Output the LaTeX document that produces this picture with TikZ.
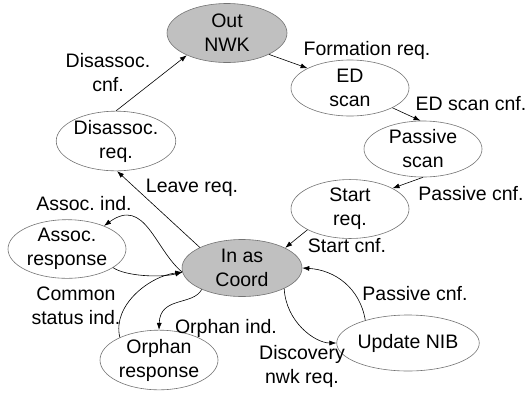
\documentclass[tikz,border=0pt]{standalone}
\usepackage{fontspec}
\setmainfont{Liberation Sans}
\usetikzlibrary{shapes.geometric,arrows.meta}
\definecolor{coordgray}{RGB}{192,192,192}
\frenchspacing

\begin{document}
\begin{tikzpicture}[
    x=1pt, y=-1pt,
    font=\fontsize{19.5}{24}\selectfont,
    state/.style={ellipse, draw=black!55, line width=0.6pt,
      minimum width=118pt, minimum height=56pt, inner sep=0pt, align=center},
    mainstate/.style={state, fill=coordgray},
    edge/.style={-{Latex[length=7pt,width=5pt]}, line width=0.6pt},
    lbl/.style={align=center, inner sep=0pt},
  ]
  \useasboundingbox (0,0) rectangle (528,392);
  \node[mainstate, minimum width=120pt, minimum height=59pt] (out) at (227,33) {Out\\NWK};
  \node[state] (ed) at (350,88) {ED\\scan};
  \node[state] (pscan) at (423,149) {Passive\\scan};
  \node[state] (start) at (350,209) {Start\\req.};
  \node[mainstate, minimum width=120pt, minimum height=57pt] (inas) at (242,268) {In as\\Coord};
  \node[state] (upd) at (408,343) {Update NIB};
  \node[state] (orph) at (159,360) {Orphan\\response};
  \node[state, minimum height=58pt] (assoc) at (67,249) {Assoc.\\response};
  \node[state] (disreq) at (116,141) {Disassoc.\\req.};

  \draw[edge] (disreq.north) -- (out.209);
  \draw[edge] (out.-27) -- (ed.155);
  \draw[edge] (ed.-25) -- (pscan.95);
  \draw[edge] (pscan.south) -- (start.26);
  \draw[edge] (start.206) -- (inas.25);
  \draw[edge] (inas.154) -- (disreq.-88);
  \draw[edge] (inas.184) .. controls (155,250) and (145,196) .. (assoc.32);
  \draw[edge] (assoc.-22) .. controls (125,276) and (160,278) .. (inas.184);
  \draw[edge] (orph.150) .. controls (112,305) and (150,276) .. (inas.184);
  \draw[edge] (inas.208) .. controls (193,306) and (160,296) .. (orph.north);
  \draw[edge] (inas.-26) .. controls (286,322) and (315,343) .. (upd.west);
  \draw[edge] (upd.152) .. controls (360,288) and (335,270) .. (inas.east);

  \node[lbl] (l-discnf) at (108,73) {Disassoc.\\cnf.};
  \node[lbl] (l-form) at (367,50) {Formation req.};
  \node[lbl] (l-edcnf) at (471,104) {ED scan cnf.};
  \node[lbl] (l-pcnf) at (471,194) {Passive cnf.};
  \node[lbl] (l-startcnf) at (347,246) {Start cnf.};
  \node[lbl] (l-leave) at (192,188) {Leave req.};
  \node[lbl] (l-assocind) at (84,204) {Assoc. ind.};
  \node[lbl] (l-common) at (76,306) {Common\\status ind.};
  \node[lbl] (l-orphind) at (226,328) {Orphan ind.};
  \node[lbl] (l-disc) at (302,366) {Discovery\\nwk req.};
  \node[lbl] (l-pcnf2) at (415,294) {Passive cnf.};
\end{tikzpicture}
\end{document}
